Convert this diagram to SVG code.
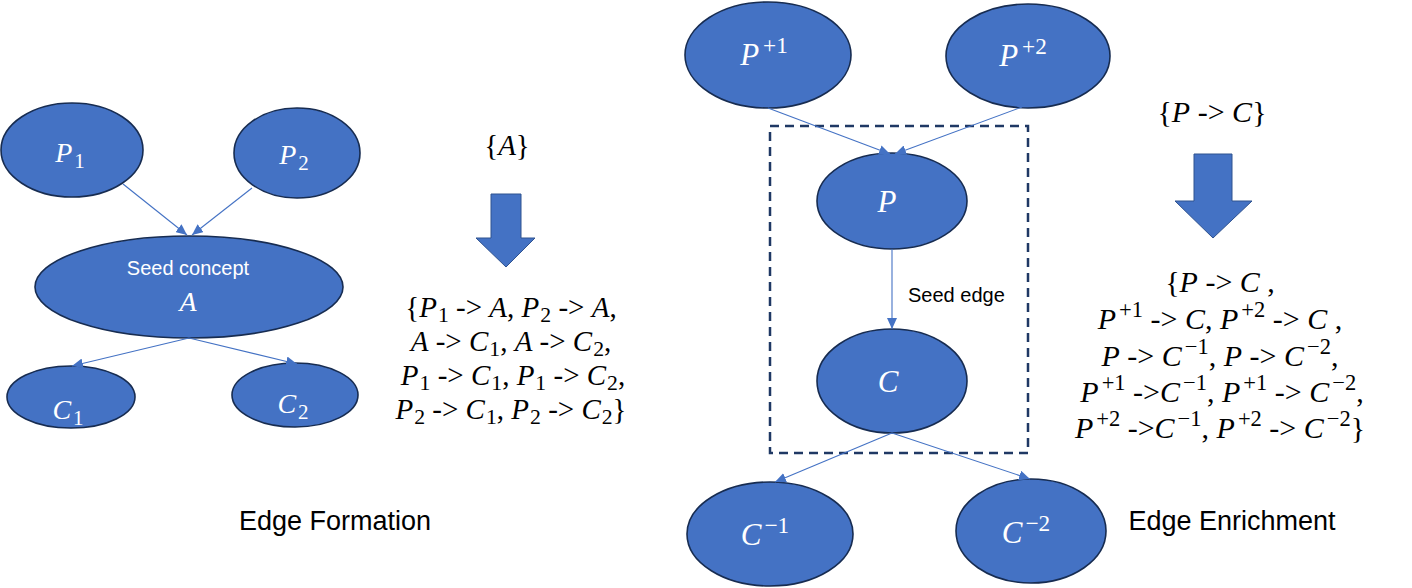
<svg xmlns="http://www.w3.org/2000/svg" width="1412" height="588" viewBox="0 0 1412 588">
<style>
.node{fill:#4472C4;stroke:#172C51;stroke-width:1.6}
.lbl{fill:#fff;font-family:"Liberation Serif",serif;text-anchor:middle}
.lbl .v,.m .v{font-style:italic}
.sm{font-size:75%}
.m{font-family:"Liberation Serif",serif;font-size:29px;fill:#000;text-anchor:middle}
.m2{font-size:30px}
.sans{font-family:"Liberation Sans",Arial,sans-serif}
.edge{stroke:#4472C4;stroke-width:1.1;fill:none;marker-end:url(#ah)}
.blk{fill:#4472C4;stroke:#2F528F;stroke-width:1}
</style>
<defs>
<marker id="ah" markerUnits="userSpaceOnUse" markerWidth="11" markerHeight="10" refX="11" refY="5" orient="auto">
<path d="M0,0 L11,5 L0,10 z" fill="#4472C4"/>
</marker>
</defs>
<rect width="1412" height="588" fill="#fff"/>

<g id="p1"><ellipse class="node" cx="72" cy="150" rx="71" ry="47"/><text class="lbl" x="70" y="162" font-size="28"><tspan class="v">P</tspan><tspan class="sm" dx="2" dy="6">1</tspan></text></g>
<g id="p2"><ellipse class="node" cx="297" cy="153" rx="63" ry="45"/><text class="lbl" x="294" y="164" font-size="28"><tspan class="v">P</tspan><tspan class="sm" dx="2" dy="6">2</tspan></text></g>
<g id="a"><ellipse class="node" cx="189" cy="287" rx="154" ry="51"/><text class="sans" x="188" y="275" font-size="20" fill="#fff" text-anchor="middle">Seed concept</text><text class="lbl" x="188" y="311" font-size="28"><tspan class="v">A</tspan></text></g>
<g id="c1"><ellipse class="node" cx="71" cy="397" rx="64" ry="31"/><text class="lbl" x="68" y="419" font-size="28"><tspan class="v">C</tspan><tspan class="sm" dx="2" dy="6">1</tspan></text></g>
<g id="c2"><ellipse class="node" cx="295" cy="395" rx="63" ry="32"/><text class="lbl" x="293" y="413" font-size="28"><tspan class="v">C</tspan><tspan class="sm" dx="2" dy="6">2</tspan></text></g>

<g id="pp1"><ellipse class="node" cx="768" cy="55" rx="83" ry="53"/><text class="lbl" x="764" y="65" font-size="31"><tspan class="v">P</tspan><tspan class="sm" dx="4" dy="-12">+1</tspan></text></g>
<g id="pp2"><ellipse class="node" cx="1028" cy="56" rx="82" ry="52"/><text class="lbl" x="1023" y="66" font-size="31"><tspan class="v">P</tspan><tspan class="sm" dx="4" dy="-12">+2</tspan></text></g>
<g id="p"><ellipse class="node" cx="892" cy="201" rx="75" ry="48"/><text class="lbl" x="887" y="212" font-size="31"><tspan class="v">P</tspan></text></g>
<g id="c"><ellipse class="node" cx="892" cy="381" rx="75" ry="52"/><text class="lbl" x="888" y="392" font-size="31"><tspan class="v">C</tspan></text></g>
<g id="cm1"><ellipse class="node" cx="770" cy="534" rx="83" ry="52"/><text class="lbl" x="765" y="545" font-size="31"><tspan class="v">C</tspan><tspan class="sm" dx="3" dy="-12">−1</tspan></text></g>
<g id="cm2"><ellipse class="node" cx="1031" cy="531" rx="75" ry="52"/><text class="lbl" x="1026" y="543" font-size="31"><tspan class="v">C</tspan><tspan class="sm" dx="3" dy="-12">−2</tspan></text></g>

<g id="seedbox"><rect x="770" y="126" width="258" height="327" fill="none" stroke="#1F3864" stroke-width="2.5" stroke-dasharray="9 6"/></g>

<g id="connectors">
<line class="edge" x1="123" y1="184" x2="187" y2="235"/>
<line class="edge" x1="252" y1="188" x2="192" y2="235"/>
<line class="edge" x1="189" y1="338" x2="72" y2="366"/>
<line class="edge" x1="189" y1="338" x2="297" y2="364"/>
<line class="edge" x1="768" y1="108" x2="890" y2="154"/>
<line class="edge" x1="1022" y1="107" x2="895" y2="154"/>
<line class="edge" x1="892" y1="249" x2="892" y2="329"/>
<line class="edge" x1="892" y1="433" x2="775" y2="482"/>
<line class="edge" x1="892" y1="433" x2="1030" y2="479"/>
</g>
<text class="sans" x="908" y="302" font-size="20" fill="#000">Seed edge</text>

<g id="left-text">
<text class="m" x="507" y="155">{<tspan class="v">A</tspan>}</text>
<polygon class="blk" points="491,194 521,194 521,238 535,238 506,267 476,238 491,238"/>
<text class="m" x="511" y="317">{<tspan class="v">P</tspan><tspan class="sm" dx="1" dy="5">1</tspan><tspan dy="-5"> -&gt; </tspan><tspan class="v">A</tspan>, <tspan class="v">P</tspan><tspan class="sm" dx="1" dy="5">2</tspan><tspan dy="-5"> -&gt; </tspan><tspan class="v">A</tspan>,</text>
<text class="m" x="511" y="351"><tspan class="v">A</tspan> -&gt; <tspan class="v">C</tspan><tspan class="sm" dx="1" dy="5">1</tspan><tspan dy="-5">, </tspan><tspan class="v">A</tspan> -&gt; <tspan class="v">C</tspan><tspan class="sm" dx="1" dy="5">2</tspan><tspan dy="-5">,</tspan></text>
<text class="m" x="513" y="385"><tspan class="v">P</tspan><tspan class="sm" dx="1" dy="5">1</tspan><tspan dy="-5"> -&gt; </tspan><tspan class="v">C</tspan><tspan class="sm" dx="1" dy="5">1</tspan><tspan dy="-5">, </tspan><tspan class="v">P</tspan><tspan class="sm" dx="1" dy="5">1</tspan><tspan dy="-5"> -&gt; </tspan><tspan class="v">C</tspan><tspan class="sm" dx="1" dy="5">2</tspan><tspan dy="-5">,</tspan></text>
<text class="m" x="511" y="419"><tspan class="v">P</tspan><tspan class="sm" dx="1" dy="5">2</tspan><tspan dy="-5"> -&gt; </tspan><tspan class="v">C</tspan><tspan class="sm" dx="1" dy="5">1</tspan><tspan dy="-5">, </tspan><tspan class="v">P</tspan><tspan class="sm" dx="1" dy="5">2</tspan><tspan dy="-5"> -&gt; </tspan><tspan class="v">C</tspan><tspan class="sm" dx="1" dy="5">2</tspan><tspan dy="-5">}</tspan></text>
<text class="sans" x="335" y="530" font-size="27" fill="#000" text-anchor="middle">Edge Formation</text>
</g>

<g id="right-text">
<text class="m m2" x="1212" y="122">{<tspan class="v">P</tspan> -&gt; <tspan class="v">C</tspan>}</text>
<polygon class="blk" points="1194,154 1232,154 1232,201 1252,201 1213,238 1175,201 1194,201"/>
<text class="m m2" x="1220" y="292">{<tspan class="v">P</tspan> -&gt; <tspan class="v">C</tspan> ,</text>
<text class="m m2" x="1220" y="329"><tspan class="v">P</tspan><tspan class="sm" dx="3" dy="-12">+1</tspan><tspan dy="12"> -&gt; </tspan><tspan class="v">C</tspan>, <tspan class="v">P</tspan><tspan class="sm" dx="3" dy="-12">+2</tspan><tspan dy="12"> -&gt; </tspan><tspan class="v">C</tspan> ,</text>
<text class="m m2" x="1220" y="366"><tspan class="v">P</tspan> -&gt; <tspan class="v">C</tspan><tspan class="sm" dx="3" dy="-12">−1</tspan><tspan dy="12">, </tspan><tspan class="v">P</tspan> -&gt; <tspan class="v">C</tspan><tspan class="sm" dx="3" dy="-12">−2</tspan><tspan dy="12">,</tspan></text>
<text class="m m2" x="1222" y="402"><tspan class="v">P</tspan><tspan class="sm" dx="3" dy="-12">+1</tspan><tspan dy="12"> -&gt;</tspan><tspan class="v">C</tspan><tspan class="sm" dx="3" dy="-12">−1</tspan><tspan dy="12">, </tspan><tspan class="v">P</tspan><tspan class="sm" dx="3" dy="-12">+1</tspan><tspan dy="12"> -&gt; </tspan><tspan class="v">C</tspan><tspan class="sm" dx="3" dy="-12">−2</tspan><tspan dy="12">,</tspan></text>
<text class="m m2" x="1220" y="438"><tspan class="v">P</tspan><tspan class="sm" dx="3" dy="-12">+2</tspan><tspan dy="12"> -&gt;</tspan><tspan class="v">C</tspan><tspan class="sm" dx="3" dy="-12">−1</tspan><tspan dy="12">, </tspan><tspan class="v">P</tspan><tspan class="sm" dx="3" dy="-12">+2</tspan><tspan dy="12"> -&gt; </tspan><tspan class="v">C</tspan><tspan class="sm" dx="3" dy="-12">−2</tspan><tspan dy="12">}</tspan></text>
<text class="sans" x="1232" y="530" font-size="27" fill="#000" text-anchor="middle">Edge Enrichment</text>
</g>
</svg>
